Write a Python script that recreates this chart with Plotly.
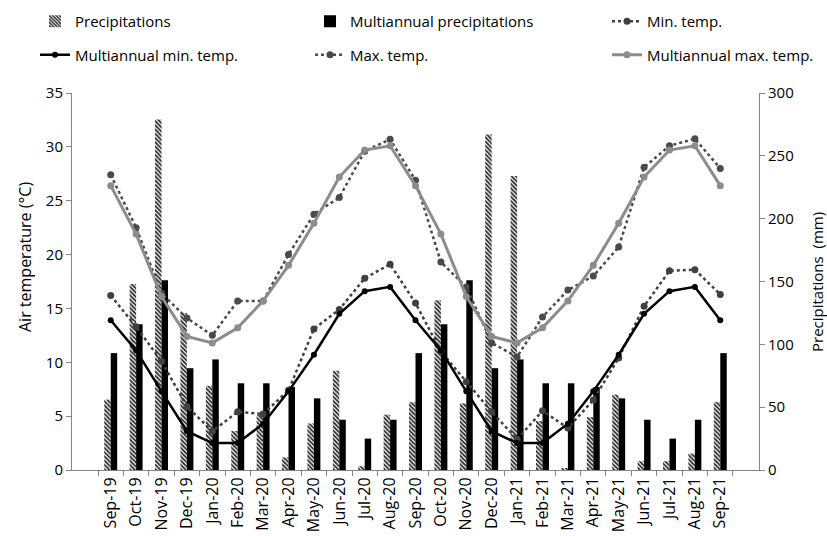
import plotly.graph_objects as go

# Monthly series, Sep 2019 - Sep 2021
months = ["Sep-19", "Oct-19", "Nov-19", "Dec-19", "Jan-20", "Feb-20", "Mar-20",
          "Apr-20", "May-20", "Jun-20", "Jul-20", "Aug-20", "Sep-20", "Oct-20",
          "Nov-20", "Dec-20", "Jan-21", "Feb-21", "Mar-21", "Apr-21", "May-21",
          "Jun-21", "Jul-21", "Aug-21", "Sep-21"]

precip = [56, 148, 279, 125, 67, 31, 44, 10, 37, 79, 3, 44, 54,
          135, 53, 267, 234, 39, 1, 42, 60, 7, 7, 13, 54]
precip_multi = [93, 116, 151, 81, 88, 69, 69, 66, 57, 40, 25, 40, 93,
                116, 151, 81, 88, 69, 69, 66, 57, 40, 25, 40, 93]

tmin = [16.2, 13.3, 10.1, 5.9, 3.6, 5.4, 5.2, 7.4, 13.1, 14.9, 17.8, 19.1, 15.5,
        11.0, 8.2, 5.4, 2.85, 5.5, 3.9, 6.5, 10.4, 15.2, 18.5, 18.6, 16.3]
tmin_multi = [13.9, 11.1, 7.3, 3.6, 2.5, 2.5, 4.3, 7.3, 10.7, 14.5, 16.6, 17.0, 13.9,
              11.1, 7.3, 3.6, 2.5, 2.5, 4.3, 7.3, 10.7, 14.5, 16.6, 17.0, 13.9]
tmax = [27.4, 22.5, 16.4, 14.1, 12.5, 15.7, 15.7, 20.0, 23.75, 25.3, 29.6, 30.7, 26.9,
        19.3, 17.0, 11.8, 10.5, 14.2, 16.7, 18.0, 20.7, 28.1, 30.1, 30.75, 28.0]
tmax_multi = [26.4, 21.9, 16.1, 12.4, 11.8, 13.2, 15.7, 19.0, 22.9, 27.2, 29.7, 30.1, 26.4,
              21.9, 16.1, 12.4, 11.8, 13.2, 15.7, 19.0, 22.9, 27.2, 29.7, 30.1, 26.4]

W, H = 827, 536
L, R, T, B = 72, 68, 93, 66
FONT = "Open Sans, Lato, sans-serif"
AXIS = "#868686"


def px_x(px):
    return (px - L) / (W - L - R)


def px_y(py):
    return (H - B - py) / (H - T - B)


fig = go.Figure()

# Precipitation columns (right-hand axis, drawn underneath the temperature lines)
fig.add_trace(go.Bar(
    x=months, y=precip, name="Precipitations", yaxis="y",
    marker=dict(color="white", line=dict(width=0),
                pattern=dict(shape="\\", fgcolor="#2e2e2e", bgcolor="white",
                             size=3, solidity=0.6, fillmode="replace")),
    legend="legend", legendgroup="a",
))
fig.add_trace(go.Bar(
    x=months, y=precip_multi, name="Multiannual precipitations", yaxis="y",
    marker=dict(color="black", line=dict(width=0)),
    legend="legend2", legendgroup="b",
))

# Temperature lines (left-hand axis)
fig.add_trace(go.Scatter(
    x=months, y=tmin, name="Min. temp.", yaxis="y2", mode="lines+markers",
    line=dict(color="#404040", width=2.5, dash="dot"),
    marker=dict(color="#404040", size=7),
    legend="legend3", legendgroup="c",
))
fig.add_trace(go.Scatter(
    x=months, y=tmin_multi, name="Multiannual min. temp.", yaxis="y2", mode="lines+markers",
    line=dict(color="black", width=2.5),
    marker=dict(color="black", size=6),
    legend="legend", legendgroup="d",
))
fig.add_trace(go.Scatter(
    x=months, y=tmax, name="Max. temp.", yaxis="y2", mode="lines+markers",
    line=dict(color="#4a4a4a", width=2.5, dash="dot"),
    marker=dict(color="#4a4a4a", size=7),
    legend="legend2", legendgroup="e",
))
fig.add_trace(go.Scatter(
    x=months, y=tmax_multi, name="Multiannual max. temp.", yaxis="y2", mode="lines+markers",
    line=dict(color="#8c8c8c", width=3),
    marker=dict(color="#8c8c8c", size=7),
    legend="legend3", legendgroup="f",
))

leg_common = dict(orientation="v", xref="container", yref="container",
                  yanchor="top", xanchor="left", tracegroupgap=11,
                  bgcolor="rgba(0,0,0,0)", font=dict(family=FONT, size=15, color="black"))

fig.update_layout(
    width=W, height=H,
    margin=dict(l=L, r=R, t=T, b=B, autoexpand=False),
    paper_bgcolor="white", plot_bgcolor="white",
    font=dict(family=FONT, color="black"),
    barmode="group", bargap=0.49, bargroupgap=0,
    xaxis=dict(type="category", showline=True, linecolor=AXIS, linewidth=1,
               ticks="outside", tickson="boundaries", ticklen=5, tickcolor=AXIS,
               tickangle=-90, tickfont=dict(size=16), showgrid=False,
               automargin=False),
    yaxis=dict(side="right", range=[0, 300], dtick=50, showline=True,
               linecolor=AXIS, ticks="outside", ticklen=5, tickcolor=AXIS,
               showgrid=False, zeroline=False, tickfont=dict(size=15),
               automargin=False),
    yaxis2=dict(side="left", overlaying="y", range=[0, 35], dtick=5,
                showline=True, linecolor=AXIS, ticks="outside", ticklen=5,
                tickcolor=AXIS, showgrid=False, zeroline=False,
                tickfont=dict(size=15), automargin=False),
    legend=dict(x=35 / W, y=1 - 5 / H, **leg_common),
    legend2=dict(x=310 / W, y=1 - 5 / H, **leg_common),
    legend3=dict(x=607 / W, y=1 - 5 / H, **leg_common),
    annotations=[
        dict(text="Air temperature (°C)", textangle=-90, showarrow=False,
             xref="paper", yref="paper", x=px_x(25), y=px_y(257),
             xanchor="center", yanchor="middle", font=dict(size=16)),
        dict(text="Precipitations\u00a0\u00a0(mm)", textangle=-90, showarrow=False,
             xref="paper", yref="paper", x=px_x(817), y=px_y(282),
             xanchor="center", yanchor="middle", font=dict(size=15)),
    ],
)

fig.write_html("out.html")
